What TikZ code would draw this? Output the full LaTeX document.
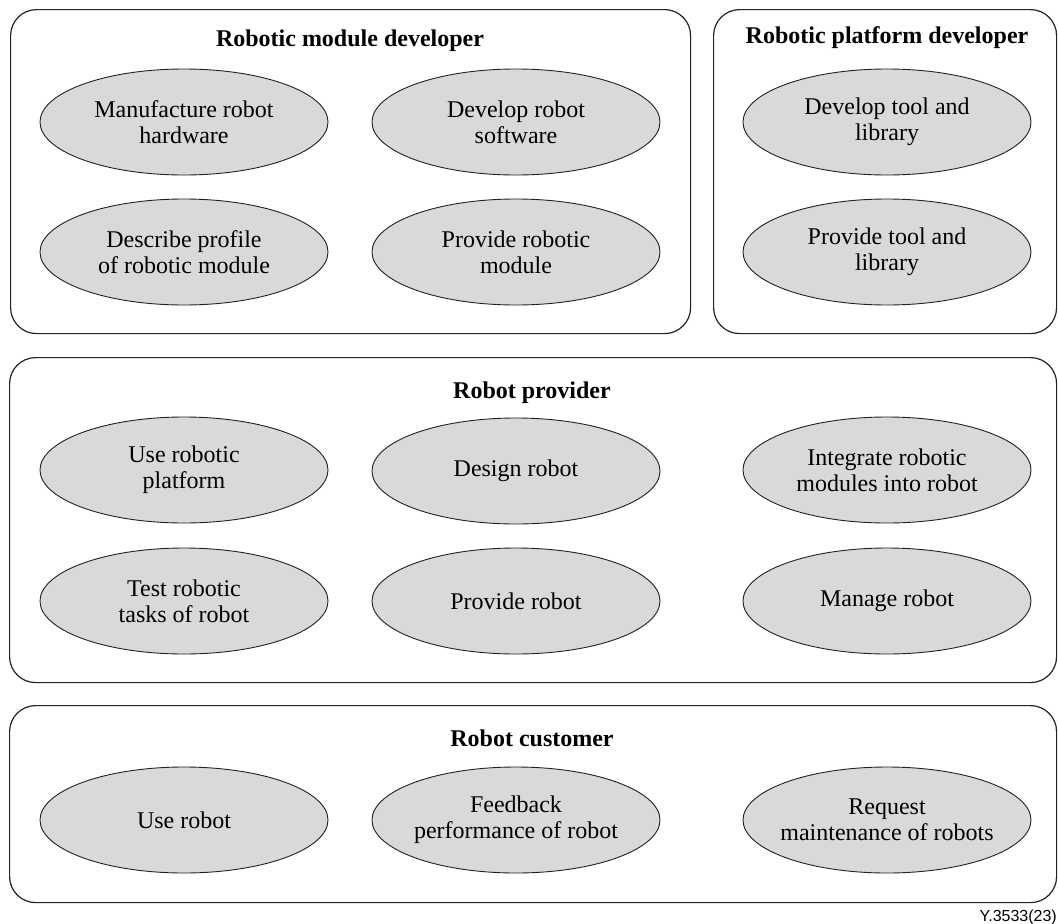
\documentclass[tikz,border=0pt]{standalone}
\usepackage{fontspec}
\setmainfont{Liberation Serif}
\newfontfamily\labelfont{Liberation Sans}
\usetikzlibrary{shapes.geometric}

\definecolor{usecasefill}{HTML}{D9D9D9}
\definecolor{edgeline}{HTML}{222222}

\tikzset{
  groupbox/.style={draw=edgeline, line width=1.2pt, rounded corners=26pt,
    anchor=north west, inner sep=0pt, fill=none},
  grouptitle/.style={anchor=base, inner sep=0pt,
    font=\fontsize{24}{26}\selectfont\bfseries},
  % fixed-size use-case ellipse: the negative x padding keeps long labels
  % from widening the shape beyond its minimum width
  usecase/.style={ellipse, draw=edgeline, line width=0.9pt, fill=usecasefill,
    minimum width=288pt, minimum height=106pt, inner ysep=0pt, inner xsep=-30pt,
    align=center, font=\fontsize{24}{26}\selectfont}
}

\begin{document}
\begin{tikzpicture}[x=1pt, y=-1pt]
  \useasboundingbox (0,0) rectangle (1058,924);

  % actor groups
  \node[groupbox, minimum width=680pt, minimum height=324pt] (gmod) at (10,9) {};
  \node[groupbox, minimum width=343pt, minimum height=324pt] (gplat) at (713,9) {};
  \node[groupbox, minimum width=1047pt, minimum height=325pt] (gprov) at (9,357) {};
  \node[groupbox, minimum width=1047pt, minimum height=197pt] (gcust) at (9,705) {};

  % group titles
  \node[grouptitle] (tmod) at (350,46) {Robotic module developer};
  \node[grouptitle] (tplat) at (887,43) {Robotic platform developer};
  \node[grouptitle] (tprov) at (532,398) {Robot provider};
  \node[grouptitle] (tcust) at (532,746) {Robot customer};

  % robotic module developer
  \node[usecase] (m1) at (184,122) {Manufacture robot\\hardware};
  \node[usecase] (m2) at (516,122) {Develop robot\\software};
  \node[usecase] (m3) at (184,252) {Describe profile\\of robotic module};
  \node[usecase] (m4) at (516,252) {Provide robotic\\module};

  % robotic platform developer
  \node[usecase] (p1) at (887,122) {Develop tool and\\library};
  \node[usecase] (p2) at (887,252) {Provide tool and\\library};

  % robot provider
  \node[usecase] (r1) at (184,470) {Use robotic\\platform};
  \node[usecase] (r2) at (516,471) {Design robot};
  \node[usecase] (r3) at (887,470) {Integrate robotic\\modules into robot};
  \node[usecase] (r4) at (184,601) {Test robotic\\tasks of robot};
  \node[usecase] (r5) at (516,601) {Provide robot};
  \node[usecase] (r6) at (887,601) {Manage robot};

  % robot customer
  \node[usecase] (c1) at (184,820) {Use robot};
  \node[usecase] (c2) at (516,820) {Feedback\\performance of robot};
  \node[usecase] (c3) at (887,820) {Request\\maintenance of robots};

  % figure number
  \node[anchor=base east, inner sep=0pt, font=\labelfont\fontsize{16}{18}\selectfont]
    (fignum) at (1057,921) {Y.3533(23)};
\end{tikzpicture}
\end{document}
